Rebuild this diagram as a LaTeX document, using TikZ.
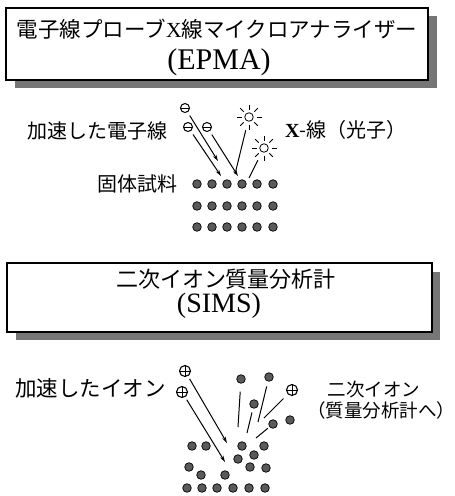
\documentclass[tikz,border=0pt]{standalone}
\usepackage{fontspec}
\setmainfont{Liberation Serif}
\newfontfamily\jp{Noto Sans CJK JP}
\usetikzlibrary{arrows.meta}
\definecolor{shadowgray}{RGB}{118,118,118}
\definecolor{dotgray}{RGB}{90,90,90}
\begin{document}
\begin{tikzpicture}[x=1pt,y=-1pt,
  panel/.style={draw, line width=1.6pt, fill=white},
  shade/.style={fill=shadowgray, draw=none},
  atom/.style={circle, draw, fill=dotgray, minimum size=8.6pt, inner sep=0pt, line width=0.7pt},
  electron/.style={circle, draw, fill=white, minimum width=8.4pt, minimum height=9pt, inner sep=0pt, line width=1pt,
    path picture={\draw[line width=0.9pt] (path picture bounding box.west) -- (path picture bounding box.east);}},
  ion/.style={circle, draw, fill=white, minimum size=11pt, inner sep=0pt, line width=1.1pt,
    path picture={\draw[line width=1pt] (path picture bounding box.north) -- (path picture bounding box.south)
      (path picture bounding box.west) -- (path picture bounding box.east);}},
  photon/.style={circle, draw, fill=white, minimum size=8.5pt, inner sep=0pt, line width=0.8pt},
  beam/.style={line width=1pt, -{Stealth[length=6.5pt,width=3.8pt]}},
  track/.style={line width=1pt},
  jptext/.style={inner sep=0pt, font=\jp\fontsize{20}{24}\selectfont},
]
\useasboundingbox (0,0) rectangle (455,496);

% ---------- EPMA title panel ----------
\fill[shade] (15,16) rectangle (437,88);
\draw[panel] (6,8) rectangle (428,80);
\node[inner sep=0pt, font=\fontsize{21.5}{24}\selectfont] (epmaname) at (217,29)
  {{\jp 電子線プローブ}X{\jp 線マイクロアナライザー}};
\node[inner sep=0pt, font=\fontsize{30}{34}\selectfont] (epmaabbr) at (219,62) {(EPMA)};

% ---------- EPMA scheme ----------
\node[jptext, anchor=east] (elabel) at (168,131) {加速した電子線};
\node[jptext, anchor=west] (xlabel) at (285,130) {{\rmfamily\bfseries X}-線（光子）};
\node[jptext, anchor=east] (solid) at (178,184) {固体試料};

\node[electron] (e1) at (185,108) {};
\node[electron] (e2) at (188,127) {};
\node[electron] (e3) at (207,127) {};
\coordinate (t1) at (218,161);
\coordinate (t2) at (221,176);
\coordinate (t3) at (238,176);
\draw[beam, shorten <=4pt] (e1) -- (t1);
\draw[beam, shorten <=4pt] (e2) -- (t2);
\draw[beam, shorten <=4pt] (e3) -- (t3);

\node[photon] (s1) at (249,117) {};
\node[photon] (s2) at (264,148) {};
\foreach \s in {s1,s2}
  \foreach \a in {0,45,...,315}
    \draw[line width=0.8pt] (\s) ++(\a:7.5) -- ++(\a:5);
\coordinate (p1) at (235,174);
\coordinate (p2) at (249,178);
\draw[track, shorten <=9pt] (s1) -- (p1);
\draw[track, shorten <=9pt] (s2) -- (p2);

\foreach \r/\y in {a/184,b/206,c/227}
  \foreach \i/\x in {1/197,2/212,3/227,4/242,5/257,6/273}
    \node[atom] (g\r\i) at (\x,\y) {};

% ---------- SIMS title panel ----------
\fill[shade] (16,272) rectangle (440,340);
\draw[panel] (7,263) rectangle (432,332);
\node[inner sep=0pt, font=\jp\fontsize{22}{26}\selectfont] (simsname) at (226,279) {二次イオン質量分析計};
\node[inner sep=0pt, font=\fontsize{28}{32}\selectfont] (simsabbr) at (219,306) {(SIMS)};

% ---------- SIMS scheme ----------
\node[inner sep=0pt, anchor=west, font=\jp\fontsize{21.5}{24}\selectfont] (ilabel) at (15,388) {加速したイオン};
\node[inner sep=0pt, font=\jp\fontsize{18.5}{22}\selectfont] (seclabel) at (374,389) {二次イオン};
\node[inner sep=0pt, font=\jp\fontsize{18.5}{22}\selectfont] (seclabel2) at (381,410) {（質量分析計へ）};

\node[ion] (i1) at (185,371) {};
\node[ion] (i2) at (182,392) {};
\node[ion] (i3) at (292,390) {};
\coordinate (u1) at (227,443);
\coordinate (u2) at (225,462);
\draw[beam, shorten <=3pt] (i1) -- (u1);
\draw[beam, shorten <=3pt] (i2) -- (u2);

% sputtered particles and their tracks
\node[atom] (d1) at (241,379) {};
\node[atom] (d2) at (269,377) {};
\node[atom] (d3) at (254,404) {};
\node[atom] (d4) at (273,424) {};
\node[atom] (d5) at (290,420) {};
\coordinate (v1) at (238,427);
\coordinate (v2) at (258,422);
\coordinate (v3) at (247,433);
\coordinate (v4) at (256,438);
\coordinate (v5) at (264,418);
\draw[track, shorten <=8pt] (d1) -- (v1);
\draw[track, shorten <=5pt] (d2) -- (v2);
\draw[track, shorten <=4pt] (d3) -- (v3);
\draw[track, shorten <=2pt] (d4) -- (v4);
\draw[track, shorten <=6pt] (i3) -- (v5);

% disturbed target
\foreach \n/\x/\y in {1/192/446, 2/206/446, 3/242/446, 4/264/446,
                      5/238/459, 6/254/455,
                      7/189/467, 8/250/467, 9/266/468,
                      10/201/475, 11/225/475,
                      12/187/488, 13/202/488, 14/217/488, 15/233/488, 16/249/488, 17/265/488}
  \node[atom] (h\n) at (\x,\y) {};
\end{tikzpicture}
\end{document}
